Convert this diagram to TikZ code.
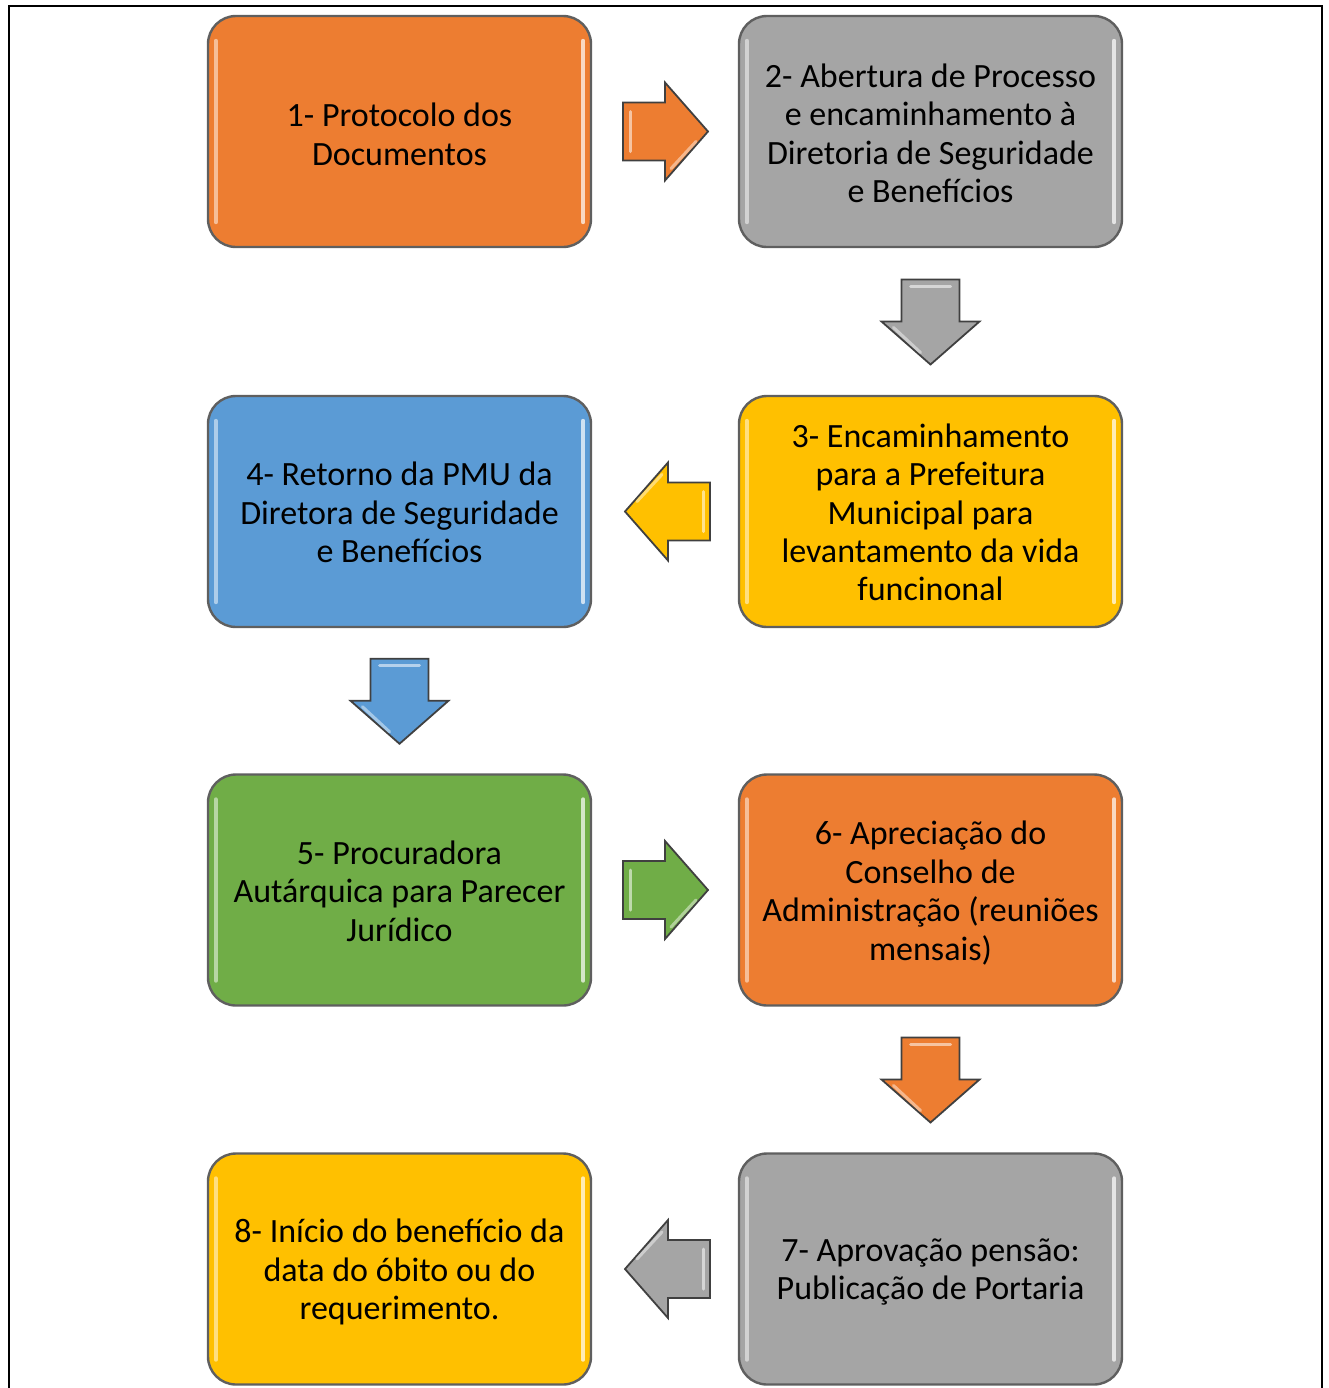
\documentclass[tikz,border=0pt]{standalone}
\usepackage{fontspec}
\setmainfont{Carlito}
\usetikzlibrary{calc}
\definecolor{corange}{HTML}{ED7D31}
\definecolor{cgray}{HTML}{A5A5A5}
\definecolor{cyellow}{HTML}{FFC000}
\definecolor{cblue}{HTML}{5B9BD5}
\definecolor{cgreen}{HTML}{70AD47}
\definecolor{cborder}{HTML}{5F5F5F}
\newcommand\glossbox[1]{%
  \draw[white, opacity=0.5, line width=2pt, line cap=round] ([xshift=4.5pt,yshift=-13pt]#1.north west) -- ([xshift=4.5pt,yshift=13pt]#1.south west);
  \draw[white, opacity=0.7, line width=2pt, line cap=round] ([xshift=-4.5pt,yshift=-13pt]#1.north east) -- ([xshift=-4.5pt,yshift=13pt]#1.south east);
}
\begin{document}
\begin{tikzpicture}[x=0.5pt,y=-0.5pt,
  stepbox/.style={draw=cborder, line width=1.2pt, rounded corners=14pt,
    minimum width=191.5pt, minimum height=115.5pt, text width=185pt,
    align=center, inner sep=0pt, font=\fontsize{17}{19.2}\selectfont, fill=#1},
  lbl/.style={align=center, inner sep=0pt, font=\fontsize{17}{19.2}\selectfont},
  pics/blockarrow/.style={code={
    \path[fill=#1, draw=black!75, line width=0.9pt, line join=miter]
      (-42,-29) -- (0,-29) -- (0,-49) -- (43,0) -- (0,49) -- (0,29) -- (-42,29) -- cycle;
    \draw[white, opacity=0.55, line width=1.5pt, line cap=round] (-35,-20) -- (-35,20);
    \draw[white, opacity=0.45, line width=1.5pt, line cap=round] (6,37) -- (31,10);
  }}
]
\useasboundingbox (0,0) rectangle (1329,1388);
\draw[line width=1pt] (8.5,1395) -- (8.5,5.5) -- (1322,5.5) -- (1322,1395);

\node[stepbox=corange] (b1) at (399.5,131.5) {};
\node[stepbox=cgray] (b2) at (930.5,131.5) {};
\node[stepbox=cyellow] (b3) at (930.5,511.5) {};
\node[stepbox=cblue] (b4) at (399.5,511.5) {};
\node[stepbox=cgreen] (b5) at (399.5,890) {};
\node[stepbox=corange] (b6) at (930.5,890) {};
\node[stepbox=cgray] (b7) at (930.5,1269) {};
\node[stepbox=cyellow] (b8) at (399.5,1269) {};

\glossbox{b1}\glossbox{b2}\glossbox{b3}\glossbox{b4}
\glossbox{b5}\glossbox{b6}\glossbox{b7}\glossbox{b8}

\node[lbl] (t1) at ([yshift=-1.5pt]b1.center) {1- Protocolo dos\\Documentos};
\node[lbl] (t2) at ([yshift=-1pt]b2.center) {2- Abertura de Processo\\e encaminhamento à\\Diretoria de Seguridade\\e Benefícios};
\node[lbl] (t3) at ([yshift=-0.5pt]b3.center) {3- Encaminhamento\\para a Prefeitura\\Municipal para\\levantamento da vida\\funcinonal};
\node[lbl] (t4) at ([yshift=-0.5pt]b4.center) {4- Retorno da PMU da\\Diretora de Seguridade\\e Benefícios};
\node[lbl] (t5) at ([yshift=-0.5pt]b5.center) {5- Procuradora\\Autárquica para Parecer\\Jurídico};
\node[lbl] (t6) at ([yshift=-1.5pt]b6.center) {6- Apreciação do\\Conselho de\\Administração (reuniões\\mensais)};
\node[lbl] (t7) at ([yshift=-1.5pt]b7.center) {7- Aprovação pensão:\\Publicação de Portaria};
\node[lbl] (t8) at ([yshift=-1.5pt]b8.center) {8- Início do benefício da\\data do óbito ou do\\requerimento.};

\pic at ($(b1.east)!0.5!(b2.west)$) {blockarrow=corange};
\pic[rotate=-90] at ($(b2.south)!0.5!(b3.north)$) {blockarrow=cgray};
\pic[rotate=180] at ([xshift=1.5pt]$(b3.west)!0.5!(b4.east)$) {blockarrow=cyellow};
\pic[rotate=-90] at ($(b4.south)!0.5!(b5.north)$) {blockarrow=cblue};
\pic at ($(b5.east)!0.5!(b6.west)$) {blockarrow=cgreen};
\pic[rotate=-90] at ($(b6.south)!0.5!(b7.north)$) {blockarrow=corange};
\pic[rotate=180] at ([xshift=1.5pt]$(b7.west)!0.5!(b8.east)$) {blockarrow=cgray};
\end{tikzpicture}
\end{document}
